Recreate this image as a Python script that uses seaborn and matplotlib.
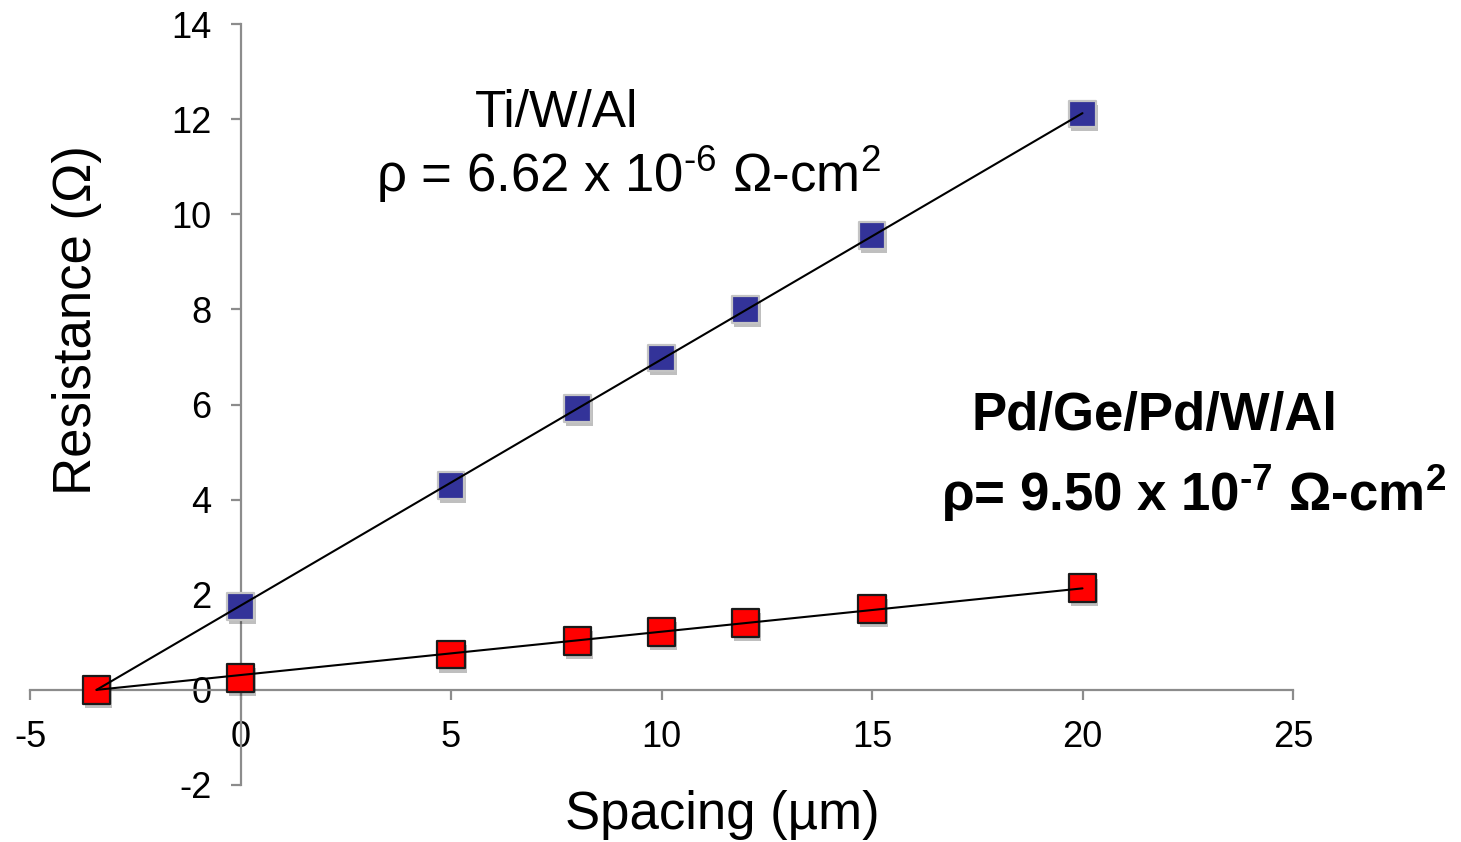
import numpy as np
import pandas as pd
import matplotlib
matplotlib.use("Agg")
import matplotlib.pyplot as plt
import matplotlib.patheffects as pe
import seaborn as sns

# Measured TLM resistance vs contact spacing
spacing_um = [0, 5, 8, 10, 12, 15, 20]
r_tiwal = [1.75, 4.30, 5.91, 6.98, 7.99, 9.56, 12.11]
r_pdge = [0.25, 0.74, 1.03, 1.22, 1.41, 1.70, 2.14]
# common x-intercept of the two fits (-2 L_T)
pivot_x = -3.42

x_ticks = [-5, 0, 5, 10, 15, 20, 25]
y_ticks = [-2, 0, 2, 4, 6, 8, 10, 12, 14]

sns.set_theme(style="white")
plt.rcParams["font.family"] = ["Liberation Sans", "DejaVu Sans"]
plt.rcParams["mathtext.fontset"] = "custom"
plt.rcParams["mathtext.rm"] = "Liberation Sans"
plt.rcParams["mathtext.default"] = "regular"
plt.rcParams["text.color"] = "black"
plt.rcParams["axes.labelcolor"] = "black"

fig = plt.figure(figsize=(14.61, 8.42), dpi=100)
ax = fig.add_axes([30 / 1461, 57 / 842, 1263 / 1461, 761 / 842])

df_a = pd.DataFrame({"x": spacing_um, "y": r_tiwal})
df_b = pd.DataFrame({"x": [pivot_x] + spacing_um, "y": [0.0] + r_pdge})

shadow = [pe.SimplePatchShadow(offset=(1.5, -3), shadow_rgbFace="black", alpha=0.25), pe.Normal()]

sns.scatterplot(data=df_a, x="x", y="y", ax=ax, marker="s", s=370,
                color="#333399", edgecolor="#c4c4c4", linewidth=1.6, zorder=3)
sns.scatterplot(data=df_b, x="x", y="y", ax=ax, marker="s", s=390,
                color="#ff0000", edgecolor="#1a1a1a", linewidth=1.6, zorder=3)
for coll in ax.collections:
    coll.set_path_effects(shadow)


def pivot_fit(xs, ys, x0):
    dx = np.asarray(xs) - x0
    return float(np.sum(dx * np.asarray(ys)) / np.sum(dx * dx))


xs_line = np.array([pivot_x, max(spacing_um)])
for ys in (r_tiwal, r_pdge):
    k = pivot_fit(spacing_um, ys, pivot_x)
    ax.plot(xs_line, k * (xs_line - pivot_x), color="black", lw=1.5, zorder=4)

ax.set_xlim(-5, 25)
ax.set_ylim(-2, 14)
ax.set_xticks(x_ticks)
ax.set_yticks(y_ticks)
ax.set_xticklabels([str(t) for t in x_ticks])
ax.set_yticklabels([str(t) for t in y_ticks])

for side in ("top", "right"):
    ax.spines[side].set_visible(False)
ax.spines["left"].set_position(("data", 0))
ax.spines["bottom"].set_position(("data", 0))
for side in ("left", "bottom"):
    ax.spines[side].set_color("#8c8c8c")
    ax.spines[side].set_linewidth(1.6)

ax.tick_params(axis="both", direction="out", length=7, width=1.6, color="#8c8c8c",
               labelsize=26, labelcolor="black")
ax.tick_params(axis="y", pad=14, left=True)
ax.tick_params(axis="x", pad=15, bottom=True)

ax.set_xlabel("Spacing (µm)", fontsize=38, va="center")
ax.set_ylabel("Resistance (Ω)", fontsize=38, va="center")
ax.xaxis.set_label_coords((722 - 30) / 1263, (785 - 815) / 761)
ax.yaxis.set_label_coords((77 - 30) / 1263, (785 - 320) / 761)

ax.text(7.5, 11.83, "Ti/W/Al", fontsize=37, ha="center", va="baseline")
ax.text(9.22, 10.47, "ρ = 6.62 x 10$^{‐6}$ Ω-cm$^{2}$", fontsize=38,
        ha="center", va="baseline")
ax.text(21.71, 5.47, "Pd/Ge/Pd/W/Al", fontsize=38, fontweight="bold",
        ha="center", va="baseline")
ax.text(22.63, 3.76, "ρ= 9.50 x 10$^{‐7}$ Ω-cm$^{2}$", fontsize=38,
        fontweight="bold", ha="center", va="baseline")

ax.set_facecolor("white")
fig.patch.set_facecolor("white")
fig.savefig("out.png", dpi=100, facecolor="white")
